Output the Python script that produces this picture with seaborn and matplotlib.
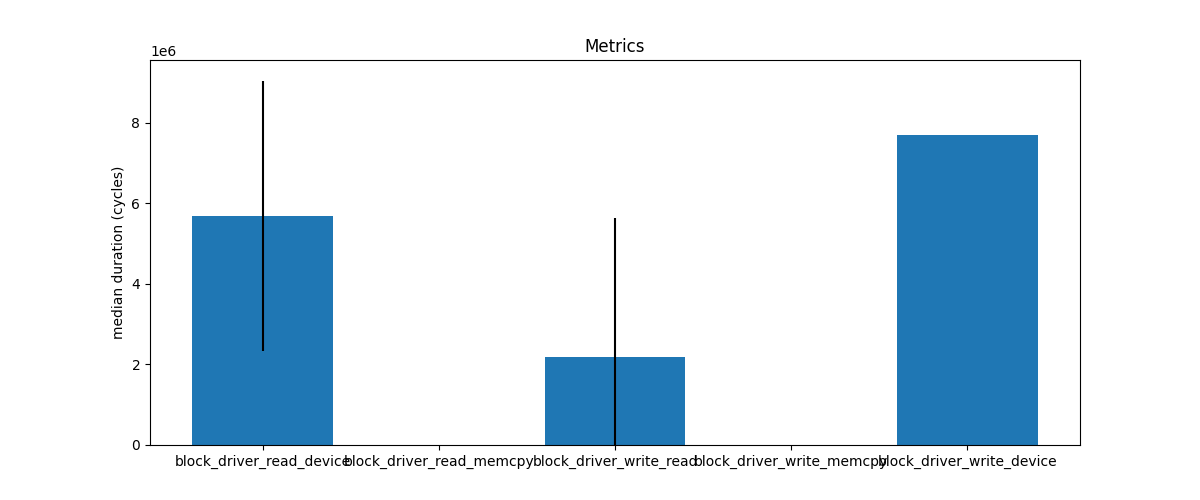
import pandas as pd
import seaborn as sns
import matplotlib.pyplot as plt

# values
metrics = ["block_driver_read_device", "block_driver_read_memcpy", "block_driver_write_read",
           "block_driver_write_memcpy", "block_driver_write_device"]
median_cycles = [5.69e6, 0.0, 2.19e6, 0.0, 7.69e6]
error_cycles = [3.35e6, 0.0, 3.45e6, 0.0, 0.0]

df = pd.DataFrame({"metric": metrics, "median": median_cycles, "err": error_cycles})

fig, ax = plt.subplots(figsize=(12, 5), dpi=100)
sns.barplot(data=df, x="metric", y="median", color="#1f77b4", saturation=1, width=0.8,
            errorbar=None, ax=ax)

# error bars on top of the seaborn bars
ax.errorbar(x=range(len(metrics)), y=df["median"], yerr=df["err"], fmt="none", ecolor="black")

ax.autoscale(enable=True, axis="x")
ax.set_ylim(bottom=0)
ax.set_xlabel("")
ax.set_ylabel("median duration (cycles)")
ax.set_title("Metrics")

plt.savefig("out.png")
